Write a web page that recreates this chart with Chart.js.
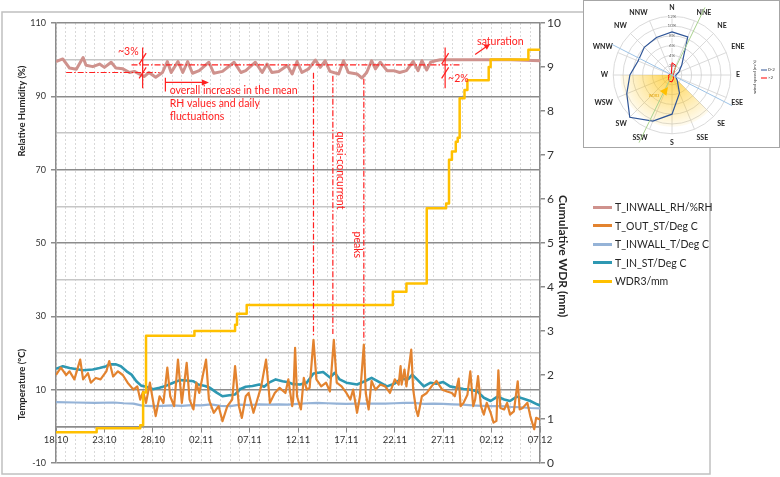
<!DOCTYPE html>
<html>
<head>
<meta charset="utf-8">
<script src="https://cdn.jsdelivr.net/npm/chart.js@4.4.1/dist/chart.umd.min.js"></script>
<style>
  body { margin: 0; background: #fff; font-family: Lato, sans-serif; }
  #wrap { position: relative; width: 780px; height: 477px; overflow: hidden; }
  #main { position: absolute; left: 0; top: 0; display: block; }
  .item { position: absolute; left: 593px; height: 14px; display: flex; align-items: center; white-space: nowrap; font-size: 10.5px; color: #262626; }
  .item i { display: inline-block; width: 19px; height: 3px; margin-right: 3px; }
  #rose-box { position: absolute; left: 583px; top: 0; width: 195px; height: 146px; border: 1px solid #a6a6a6; background: #fff; }
  #rose { display: block; }
</style>
</head>
<body>
<div id="wrap">
  <canvas id="main" width="780" height="477"></canvas>
  <div id="legend"></div>
  <div id="rose-box"><canvas id="rose" width="195" height="146"></canvas></div>
</div>
<script>
// x axis: days after 18.10, labels every 5 days
const dateLabels = ['18.10', '23.10', '28.10', '02.11', '07.11', '12.11', '17.11', '22.11', '27.11', '02.12', '07.12'];
const leftTicks = [-10, 10, 30, 50, 70, 90, 110];

// T_INWALL_RH (%)
const rhDays = [0, 0.7, 1.4, 2.1, 2.8, 3.1, 3.8, 4.5, 5.0, 5.7, 6.2, 6.9, 7.6, 8.1, 8.6, 9.1, 9.6, 10.3, 11.0, 11.5,
  11.9, 12.6, 13.1, 13.6, 14.1, 14.8, 15.8, 16.3, 17.2, 18.4, 19.1, 19.6, 20.6, 21.3, 21.8, 22.3, 23.0, 23.9, 24.4, 24.9,
  25.4, 26.1, 26.8, 27.3, 27.8, 28.3, 29.2, 29.7, 30.2, 31.1, 31.6, 32.1, 32.6, 33.0, 33.5, 34.2, 34.9, 35.5, 36.2, 36.9,
  37.4, 37.8, 38.3, 38.7, 39.2, 39.7, 47.0, 50.0];
const rhValues = [99.5, 100.2, 97.7, 97.4, 100.6, 98.5, 98.1, 98.8, 97.9, 99.3, 97.7, 97.5, 96.5, 96.8, 96.1, 95.4, 96.5, 95.2, 96.5, 99.5,
  96.5, 99.5, 96.5, 99.5, 96.3, 97.0, 99.3, 96.3, 96.8, 99.3, 96.5, 97.0, 99.3, 96.5, 98.8, 96.5, 96.8, 98.4, 96.1, 99.5,
  96.5, 97.5, 99.9, 97.9, 99.7, 96.8, 96.1, 99.7, 96.5, 96.1, 95.0, 96.5, 99.7, 97.5, 99.3, 97.0, 97.0, 96.5, 97.0, 99.5,
  97.0, 99.7, 97.2, 99.3, 99.7, 100.0, 100.0, 99.7];

// T_OUT_ST (deg C)
const outDays = [0, 0.5, 1.05, 1.4, 1.9, 2.5, 2.8, 3.3, 3.6, 4.1,
  4.6, 5.2, 5.5, 5.9, 6.4, 6.9, 7.4, 8.0, 8.4, 8.7,
  9.0, 9.3, 9.7, 10.0, 10.3, 10.7, 11.1, 11.5, 11.8, 12.2,
  12.6, 13.0, 13.5, 13.8, 14.2, 14.5, 14.8, 15.5, 15.8, 16.3,
  16.8, 17.2, 17.7, 18.2, 18.5, 18.9, 19.2, 19.6, 19.9, 20.4,
  20.9, 21.2, 21.7, 22.1, 22.6, 23.1, 23.7, 24.0, 24.4, 24.5,
  24.7, 24.9, 25.3, 25.6, 25.9, 26.2, 26.6, 26.9, 27.4, 27.9,
  28.3, 28.7, 29.0, 29.5, 30.0, 30.4, 30.7, 31.1, 31.4, 31.8,
  32.0, 32.3, 32.6, 33.0, 33.5, 34.0, 34.5, 35.0, 35.4, 35.6,
  35.7, 36.0, 36.2, 36.7, 36.9, 37.2, 37.4, 37.8, 38.3, 38.8,
  39.3, 39.9, 40.4, 40.9, 41.2, 41.6, 41.8, 42.1, 42.5, 42.8,
  43.1, 43.3, 43.6, 43.9, 44.2, 44.5, 44.9, 45.2, 45.5, 45.7,
  45.9, 46.3, 46.6, 46.9, 47.3, 47.7, 47.9, 48.2, 48.7, 49.0,
  49.4, 49.6, 50.0];
const outValues = [14.0, 16.0, 14.0, 15.0, 12.8, 18.2, 12.8, 14.5, 11.9, 13.2,
  12.8, 15.0, 17.8, 13.6, 15.0, 14.0, 11.9, 10.0, 10.9, 7.3,
  9.5, 6.4, 11.9, 7.3, 2.8, 8.2, 6.4, 16.0, 8.2, 5.5,
  18.2, 6.4, 17.3, 7.3, 4.6, 11.9, 9.1, 18.2, 7.3, 3.7,
  5.5, 1.4, 5.5, 7.3, 16.4, 5.5, 2.3, 8.2, 9.1, 3.7,
  8.2, 10.9, 18.2, 6.4, 9.1, 10.5, 9.1, 12.8, 5.5, 7.3,
  21.4, 8.2, 4.6, 13.2, 10.0, 10.5, 23.6, 12.8, 10.9, 11.9,
  9.5, 23.6, 11.9, 10.9, 9.1, 7.3, 10.0, 3.7, 8.2, 22.3,
  9.1, 4.6, 12.4, 10.0, 11.4, 10.9, 9.1, 12.8, 11.4, 16.4,
  11.4, 15.5, 10.9, 20.9, 10.0, 4.6, 2.8, 8.2, 9.1, 10.9,
  12.4, 10.0, 9.5, 9.1, 8.2, 13.0, 5.5, 6.4, 8.6, 15.0,
  5.5, 7.3, 13.7, 5.5, 3.2, 6.4, 3.7, 1.0, 1.5, 15.3,
  5.0, 4.6, 6.4, 3.2, 4.1, 12.3, 4.6, 5.0, 6.4, 2.8,
  -0.8, 2.3, 1.9];

// T_INWALL_T (deg C)
const wallDays = [0, 2, 4, 6, 7, 8, 8.8, 9.3, 10, 11, 12, 13, 14, 15, 16, 17, 18, 19, 20, 21, 22, 23, 24, 25, 26,
  27, 28, 29, 30, 31, 32, 33, 34, 35, 36, 37, 38, 39, 40, 41, 42, 43, 44, 45, 46, 47, 48, 49, 50];
const wallValues = [6.6, 6.5, 6.4, 6.5, 6.3, 6.2, 5.7, 5.6, 5.5, 5.6, 5.7, 5.6, 5.8, 5.7, 6.0, 5.6, 5.5, 5.9, 5.8, 6.0, 5.9, 6.0, 5.9, 6.1, 6.3,
  6.4, 6.3, 6.2, 6.1, 6.2, 6.2, 6.2, 6.2, 6.3, 6.4, 6.4, 6.1, 6.2, 6.1, 6.0, 5.9, 5.7, 5.6, 5.5, 5.5, 5.3, 5.2, 5.0, 4.9];

// T_IN_ST (deg C)
const inDays = [0, 0.7, 1.4, 2.8, 3.8, 4.5, 5.2, 5.5, 6.2, 6.7,
  7.3, 7.8, 8.3, 8.8, 9.3, 10.0, 10.7, 11.4, 12.1, 12.8,
  13.5, 14.2, 14.7, 15.4, 15.9, 16.6, 17.2, 17.9, 18.5, 19.0,
  19.6, 20.3, 21.0, 21.5, 22.0, 22.7, 23.4, 24.0, 24.5, 25.2,
  25.9, 26.6, 27.6, 28.3, 28.8, 29.3, 30.0, 31.1, 31.9, 32.6,
  33.5, 34.2, 35.0, 35.6, 36.4, 36.8, 37.3, 38.0, 38.7, 39.3,
  40.0, 40.7, 41.4, 42.1, 42.8, 43.5, 44.2, 44.9, 45.6, 46.3,
  46.9, 47.6, 48.3, 49.0, 49.7, 50.0];
const inValues = [15.7, 16.4, 15.9, 15.3, 15.5, 15.9, 16.4, 16.9, 16.9, 16.4,
  15.0, 14.1, 12.3, 11.1, 10.8, 10.1, 10.5, 11.1, 11.9, 12.6,
  12.5, 12.3, 11.4, 11.0, 10.5, 9.2, 8.2, 8.5, 8.7, 10.1,
  10.8, 11.0, 11.4, 10.8, 11.9, 12.8, 12.3, 12.0, 11.5, 11.4,
  11.9, 14.4, 14.8, 13.3, 14.6, 12.8, 11.9, 11.4, 12.3, 13.2,
  11.9, 10.9, 11.7, 12.9, 12.9, 14.1, 12.8, 10.9, 11.9, 11.6,
  12.1, 10.9, 10.5, 10.2, 10.0, 9.6, 7.8, 6.9, 8.1, 7.3,
  6.9, 8.1, 7.5, 6.9, 6.0, 5.7];

// WDR3 cumulative (mm), value holds from the given day on
const wdrDays = [0, 4.2, 8.7, 9.0, 9.3, 14.3, 18.5, 18.7, 19.7, 34.8, 36.2, 38.3, 40.3, 40.6, 40.9, 41.3, 41.5, 41.7, 42.2, 42.5, 44.7, 44.9, 48.8, 50];
const wdrValues = [0.70, 0.79, 0.86, 1.6, 2.89, 3.0, 3.14, 3.39, 3.59, 3.89, 4.08, 5.79, 5.9, 6.89, 7.08, 7.3, 7.39, 8.29, 8.48, 8.7, 9.0, 9.17, 9.39, 9.39];

// wind rose (% of time per direction)
const windDirs = ['N', 'NNE', 'NE', 'ENE', 'E', 'ESE', 'SE', 'SSE', 'S', 'SSW', 'SW', 'WSW', 'W', 'WNW', 'NW', 'NNW'];
const windCalm = [8.8, 8.4, 2.8, 1.5, 0.8, 0.8, 1.5, 4.0, 8.0, 10.2, 12.2, 10.0, 8.6, 7.5, 8.0, 8.3];
const windStrong = [2.5, 2.1, 0.5, 0.3, 0.3, 0.3, 0.4, 0.8, 1.4, 1.4, 1.0, 0.7, 0.7, 0.4, 0.3, 0.3];

Chart.defaults.font.family = 'Lato, sans-serif';

const pts = (xs, ys) => xs.map((d, i) => ({ x: d, y: ys[i] }));

const datasets = [
  { label: 'T_INWALL_RH/%RH', data: pts(rhDays, rhValues), borderColor: '#cf928d', borderWidth: 3, yAxisID: 'y', order: 5 },
  { label: 'T_OUT_ST/Deg C', data: pts(outDays, outValues), borderColor: '#e3832f', borderWidth: 2.2, yAxisID: 'y', order: 2 },
  { label: 'T_INWALL_T/Deg C', data: pts(wallDays, wallValues), borderColor: '#95b3d7', borderWidth: 2.2, yAxisID: 'y', order: 4 },
  { label: 'T_IN_ST/Deg C', data: pts(inDays, inValues), borderColor: '#2e98b2', borderWidth: 2.6, yAxisID: 'y', order: 3 },
  { label: 'WDR3/mm', data: pts(wdrDays, wdrValues), borderColor: '#ffc000', borderWidth: 2.5, yAxisID: 'y2', stepped: true, order: 1 }
];

// legend on the right side
const legendEl = document.getElementById('legend');
datasets.forEach((ds, i) => {
  const row = document.createElement('div');
  row.className = 'item';
  row.style.top = (200 + i * 18.5) + 'px';
  row.innerHTML = '<i style="background:' + ds.borderColor + '"></i>' + ds.label;
  legendEl.appendChild(row);
});

const RED = '#ff2020';

function drawText(ctx, s, px, py, opt) {
  ctx.save();
  ctx.translate(px, py);
  if (opt.rot) ctx.rotate(opt.rot);
  ctx.font = opt.font;
  ctx.fillStyle = opt.color;
  ctx.textAlign = opt.align || 'center';
  ctx.textBaseline = 'middle';
  ctx.fillText(s, 0, 0);
  ctx.restore();
}

function arrowHead(ctx, tx, ty, ang, len, half) {
  ctx.beginPath();
  ctx.moveTo(tx, ty);
  ctx.lineTo(tx - len * Math.cos(ang) + half * Math.sin(ang), ty - len * Math.sin(ang) - half * Math.cos(ang));
  ctx.lineTo(tx - len * Math.cos(ang) - half * Math.sin(ang), ty - len * Math.sin(ang) + half * Math.cos(ang));
  ctx.closePath();
  ctx.fill();
}

// titles, frame and the red remarks
const notesPlugin = {
  id: 'notes',
  afterDraw(chart) {
    const { ctx, chartArea: a, scales: { x, y, y2 } } = chart;
    const X = d => x.getPixelForValue(d);
    const Y = v => y.getPixelForValue(v);
    const line = (x1, y1, x2, y2_, dash) => {
      ctx.setLineDash(dash || []);
      ctx.beginPath(); ctx.moveTo(x1, y1); ctx.lineTo(x2, y2_); ctx.stroke();
    };
    ctx.save();
    ctx.strokeStyle = '#c0c0c0';
    ctx.lineWidth = 1.5;
    ctx.strokeRect(2, 12, 708, 462);

    drawText(ctx, 'Relative Humidity (%)', a.left - 34, Y(86), { rot: -Math.PI / 2, font: 'bold 9.5px Lato', color: '#262626' });
    drawText(ctx, 'Temperature (°C)', a.left - 34, Y(11.4), { rot: -Math.PI / 2, font: 'bold 9.5px Lato', color: '#262626' });
    drawText(ctx, 'Cumulative WDR (mm)', a.right + 23, y2.getPixelForValue(4.7), { rot: Math.PI / 2, font: 'bold 12px Lato', color: '#262626' });

    ctx.strokeStyle = RED;
    ctx.fillStyle = RED;
    ctx.lineWidth = 1.2;
    const dd = [6, 2, 1.5, 2];
    line(X(1.05), Y(96.5), X(10.7), Y(96.5), dd);
    line(X(7.8), Y(98.6), X(41.9), Y(98.6), dd);
    [[26.6, 96.4, 24.8], [28.6, 95.6, 25.2], [31.8, 94.8, 23.4]].forEach(([d, v1, v2]) => line(X(d), Y(v1), X(d), Y(v2), dd));

    // break marks
    [8.95, 40.2].forEach(d => {
      const px = X(d);
      line(px, Y(103.3), px, Y(92.2));
      [100.3, 96.4].forEach(vc => line(px - 3.5, Y(vc) + 5.5, px + 3.5, Y(vc) - 5.5));
    });

    // arrow: overall increase
    line(X(11.3), Y(95.1), X(11.3), Y(91.3));
    line(X(11.3), Y(93.8), X(15.2), Y(93.8));
    arrowHead(ctx, X(15.8), Y(93.8), 0, 7, 3);

    // arrow: saturation
    const ax1 = X(43.3), ay1 = Y(101.4), ax2 = X(44.85), ay2 = Y(104.3);
    const ang = Math.atan2(ay2 - ay1, ax2 - ax1);
    line(ax1, ay1, ax2 - 4 * Math.cos(ang), ay2 - 4 * Math.sin(ang));
    arrowHead(ctx, ax2, ay2, ang, 6, 2.8);

    const f = '10.5px Lato';
    drawText(ctx, '~3%', X(6.4), Y(102.2), { font: f, color: RED, align: 'left' });
    drawText(ctx, 'overall increase in the mean', X(11.75), Y(91.6), { font: f, color: RED, align: 'left' });
    drawText(ctx, 'RH values and daily', X(11.75), Y(88.1), { font: f, color: RED, align: 'left' });
    drawText(ctx, 'fluctuations', X(11.75), Y(84.6), { font: f, color: RED, align: 'left' });
    drawText(ctx, 'quasi-concurrent', X(29.4), Y(69.8), { font: f, color: RED, rot: Math.PI / 2 });
    drawText(ctx, 'peaks', X(31.1), Y(49.5), { font: f, color: RED, rot: Math.PI / 2 });
    drawText(ctx, 'saturation', X(43.5), Y(104.9), { font: f, color: RED, align: 'left' });
    drawText(ctx, '~2%', X(40.5), Y(94.8), { font: f, color: RED, align: 'left' });
    ctx.restore();
  }
};

new Chart(document.getElementById('main'), {
  type: 'line',
  data: { datasets },
  options: {
    responsive: false,
    animation: false,
    devicePixelRatio: 1,
    layout: { padding: { top: 23, bottom: 14, left: 0, right: 200 } },
    elements: { point: { radius: 0 }, line: { tension: 0, borderJoinStyle: 'round' } },
    plugins: { legend: { display: false }, tooltip: { enabled: false } },
    scales: {
      x: {
        type: 'linear', min: 0, max: 50, position: { y: 0 },
        ticks: {
          stepSize: 1, autoSkip: false, maxRotation: 0, padding: 3, color: '#333', font: { size: 9.5 },
          callback: v => (v % 5 === 0 ? dateLabels[v / 5] : '')
        },
        grid: {
          color: '#d9d9d9', lineWidth: 1, tickLength: 5,
          tickColor: c => (c.tick && c.tick.value % 5 === 0 ? '#8c8c8c' : 'rgba(0,0,0,0)')
        },
        border: { color: '#8c8c8c', width: 1.5, dash: [2, 2] }
      },
      y: {
        position: 'left', min: -10, max: 110,
        ticks: { stepSize: 10, color: '#333', font: { size: 9 }, padding: 5, callback: v => (leftTicks.includes(v) ? v : '') },
        grid: {
          lineWidth: 1.5, tickLength: 5,
          color: c => (leftTicks.includes(c.tick.value) || c.tick.value === 0 ? '#8c8c8c' : '#c6c6c6'),
          tickColor: c => (leftTicks.includes(c.tick.value) ? '#8c8c8c' : 'rgba(0,0,0,0)')
        },
        border: { color: '#8c8c8c', width: 1.5 },
        afterFit: s => { s.width = 56; }
      },
      y2: {
        position: 'right', min: 0, max: 10,
        ticks: { stepSize: 1, color: '#333', font: { size: 12 }, padding: 2 },
        grid: { drawOnChartArea: false, tickLength: 5, color: '#8c8c8c', lineWidth: 1.5 },
        border: { color: '#8c8c8c', width: 1.5 },
        afterFit: s => { s.width = 40; }
      }
    }
  },
  plugins: [notesPlugin]
});

// wind rose extras: WDR sector, wall orientation, arrow, legend
const rosePlugin = {
  id: 'rose',
  beforeDatasetsDraw(chart) {
    const { ctx } = chart;
    const r = chart.scales.r;
    const cx = r.xCenter, cy = r.yCenter, R = r.drawingArea * 0.88;
    const g = ctx.createRadialGradient(cx, cy, 0, cx, cy, R);
    g.addColorStop(0, 'rgba(255,192,0,0.7)');
    g.addColorStop(1, 'rgba(255,192,0,0.06)');
    ctx.save();
    ctx.fillStyle = g;
    ctx.beginPath();
    ctx.moveTo(cx, cy);
    ctx.arc(cx, cy, R, Math.PI / 4, Math.PI);
    ctx.closePath();
    ctx.fill();
    ctx.restore();
  },
  afterDatasetsDraw(chart) {
    const { ctx } = chart;
    const r = chart.scales.r;
    const cx = r.xCenter, cy = r.yCenter, R = r.drawingArea;
    ctx.save();
    ctx.lineWidth = 1;
    const a1 = 27 * Math.PI / 180;
    ctx.strokeStyle = '#9dc3e6';
    ctx.beginPath();
    ctx.moveTo(cx - Math.cos(a1) * 1.15 * R, cy - Math.sin(a1) * 1.15 * R);
    ctx.lineTo(cx + Math.cos(a1) * 1.15 * R, cy + Math.sin(a1) * 1.15 * R);
    ctx.stroke();
    const a2 = -64 * Math.PI / 180;
    ctx.strokeStyle = '#a9d18e';
    ctx.beginPath();
    ctx.moveTo(cx - Math.cos(a2) * 1.28 * R, cy - Math.sin(a2) * 1.28 * R);
    ctx.lineTo(cx + Math.cos(a2) * 1.28 * R, cy + Math.sin(a2) * 1.28 * R);
    ctx.stroke();

    ctx.fillStyle = '#ffc000';
    arrowHead(ctx, cx - 4, cy + 12, Math.atan2(-8, 6), 8, 4);
    drawText(ctx, 'WDR3', cx - 18, cy + 21, { font: '3.5px Lato', color: '#e0a000' });

    drawText(ctx, 'wind speed (m/s)', 171, 76, { font: '4.5px Lato', color: '#404040', rot: -Math.PI / 2 });
    ctx.lineWidth = 1;
    ctx.strokeStyle = '#2f5597';
    ctx.beginPath(); ctx.moveTo(177, 69); ctx.lineTo(183, 69); ctx.stroke();
    ctx.strokeStyle = '#ff0000';
    ctx.beginPath(); ctx.moveTo(177, 77); ctx.lineTo(183, 77); ctx.stroke();
    drawText(ctx, '0-2', 184, 69, { font: '4.5px Lato', color: '#404040', align: 'left' });
    drawText(ctx, '>2', 184, 77, { font: '4.5px Lato', color: '#404040', align: 'left' });
    ctx.restore();
  }
};

new Chart(document.getElementById('rose'), {
  type: 'radar',
  data: {
    labels: windDirs,
    datasets: [
      { label: '0-2', data: windCalm, borderColor: '#2f5597', borderWidth: 1.2, fill: false, pointRadius: 0 },
      { label: '>2', data: windStrong, borderColor: '#ff0000', borderWidth: 1, fill: false, pointRadius: 0 }
    ]
  },
  options: {
    responsive: false,
    animation: false,
    devicePixelRatio: 1,
    layout: { padding: { left: 0, right: 19, top: 3, bottom: 0 } },
    elements: { line: { tension: 0 } },
    plugins: { legend: { display: false }, tooltip: { enabled: false } },
    scales: {
      r: {
        min: 0, max: 12,
        ticks: { stepSize: 2, callback: v => v + '%', font: { size: 4.5, lineHeight: 1 }, color: '#595959', backdropColor: '#fff', backdropPadding: 0 },
        grid: { circular: true, color: '#d0d0d0', lineWidth: 0.8 },
        angleLines: { color: '#d0d0d0', lineWidth: 0.8 },
        pointLabels: { font: { size: 7, weight: 'bold', lineHeight: 1 }, color: '#262626', padding: 3 }
      }
    }
  },
  plugins: [rosePlugin]
});
</script>
</body>
</html>
